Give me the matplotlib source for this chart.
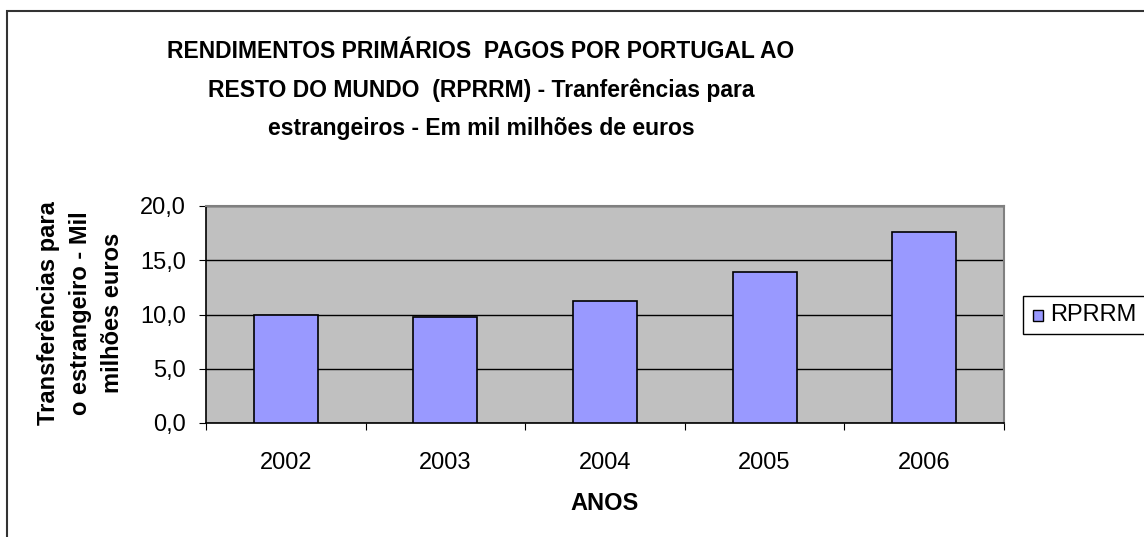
import matplotlib
matplotlib.use("Agg")
import matplotlib.pyplot as plt
from matplotlib.patches import Rectangle
from matplotlib import font_manager

plt.rcParams['font.family'] = ['Liberation Sans', 'DejaVu Sans']

years = ["2002", "2003", "2004", "2005", "2006"]
values = [10.0, 9.8, 11.2, 13.9, 17.6]
yticks = [0, 5, 10, 15, 20]
ytick_labels = ["0,0", "5,0", "10,0", "15,0", "20,0"]
title_lines = ["RENDIMENTOS PRIMÁRIOS  PAGOS POR PORTUGAL AO",
               "RESTO DO MUNDO  (RPRRM) - Tranferências para",
               "estrangeiros - Em mil milhões de euros"]
ylabel = "Transferências para\no estrangeiro - Mil\nmilhões euros"
xlabel = "ANOS"
series_name = "RPRRM"

installed = {f.name for f in font_manager.fontManager.ttflist}
if "Liberation Sans Narrow" in installed:
    title_family = ["Liberation Sans Narrow", "DejaVu Sans"]
    title_size = 20
else:
    title_family = ["Liberation Sans", "DejaVu Sans"]
    title_size = 16.5

W, H = 1144, 537
fig = plt.figure(figsize=(W / 100, H / 100), dpi=100)
fig.patch.set_facecolor("white")

def fx(px):
    return px / W

def fy(py):
    return 1 - py / H

# outer chart border
fig.patches.append(Rectangle((fx(7), fy(560)), fx(1200), fy(11) - fy(560),
                             transform=fig.transFigure, fill=False,
                             edgecolor="#333333", linewidth=1.5))

left, right, top, bottom = 206, 1004, 206, 423
ax = fig.add_axes([fx(left), fy(bottom), fx(right - left), (bottom - top) / H])
ax.set_facecolor("#C0C0C0")

x = list(range(len(years)))
bars = ax.bar(x, values, width=0.4, color="#9999FF", edgecolor="black",
              linewidth=1.2, zorder=3)
ax.set_xlim(-0.5, len(years) - 0.5)
ax.set_ylim(0, 20)
ax.set_yticks(yticks)
ax.set_yticklabels(ytick_labels, fontsize=17)
ax.yaxis.grid(True, color="black", linewidth=1.0, zorder=1)
ax.set_axisbelow(True)

# x ticks at category boundaries, labels at centers
ax.set_xticks([i - 0.5 for i in range(len(years) + 1)])
ax.set_xticklabels([])
ax.set_xticks(x, minor=True)
ax.set_xticklabels(years, minor=True, fontsize=17)
ax.tick_params(axis="x", which="major", direction="out", length=5, width=0.8, color="black")
ax.tick_params(axis="x", which="minor", length=0, pad=21)
ax.tick_params(axis="y", direction="out", length=5, width=0.8, pad=9.5)

for s in ["top", "right"]:
    ax.spines[s].set_color("#808080")
    ax.spines[s].set_linewidth(1.5)
for s in ["left", "bottom"]:
    ax.spines[s].set_color("black")
    ax.spines[s].set_linewidth(1.2)

# title
for i, line in enumerate(title_lines):
    fig.text(fx(481), fy(51 + 39 * i), line, ha="center", va="center",
             fontsize=title_size, fontweight="bold", family=title_family)

# y label
fig.text(fx(80), fy(313), ylabel, ha="center", va="center", rotation=90,
         fontsize=17, fontweight="bold", linespacing=1.5)

# x label
fig.text(fx(605), fy(503), xlabel, ha="center", va="center",
         fontsize=17, fontweight="bold")

# legend
fig.patches.append(Rectangle((fx(1023), fy(334)), fx(200), fy(296) - fy(334),
                             transform=fig.transFigure, facecolor="white",
                             edgecolor="black", linewidth=1.0))
fig.patches.append(Rectangle((fx(1033), fy(321)), fx(10), fy(310) - fy(321),
                             transform=fig.transFigure,
                             facecolor=bars.patches[0].get_facecolor(),
                             edgecolor="black", linewidth=1.0))
fig.text(fx(1050), fy(315), series_name, ha="left", va="center", fontsize=17)

fig.savefig("out.png", dpi=100)
